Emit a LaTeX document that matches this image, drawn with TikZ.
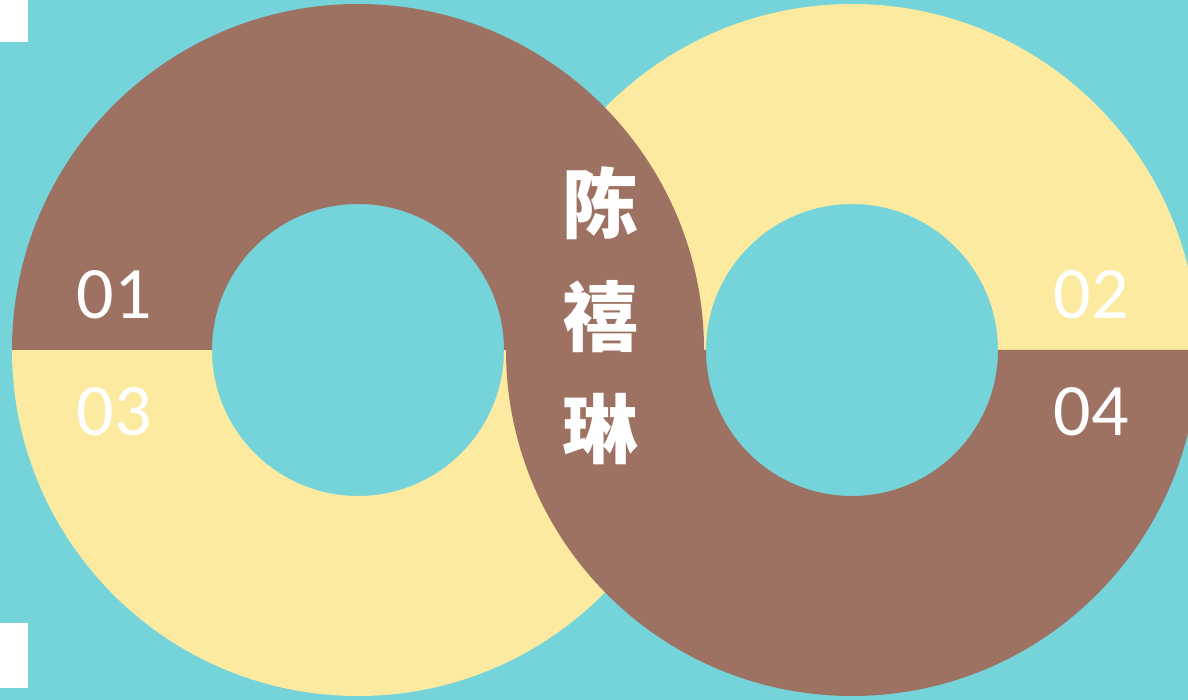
\documentclass[tikz,border=0pt]{standalone}
\usepackage{fontspec}
\setmainfont{Carlito}
\newfontfamily\cjk{Noto Sans CJK SC}
\definecolor{teal}{RGB}{116,212,218}
\definecolor{brownc}{RGB}{157,114,98}
\definecolor{yellowc}{RGB}{252,234,160}
\tikzset{
  num/.style={text=white,font=\fontsize{74}{74}\selectfont,inner sep=0pt,anchor=center},
  han/.style={text=white,font=\cjk\bfseries\fontsize{76}{76}\selectfont,inner sep=0pt,anchor=center}
}
\begin{document}
\begin{tikzpicture}[x=1pt,y=1pt]
\useasboundingbox (0,0) rectangle (1188,700);
\fill[teal] (0,0) rectangle (1188,700);
\coordinate (L) at (358,350);
\coordinate (R) at (852,350);
% right top yellow
\fill[yellowc] (R) ++(180:346) arc[start angle=180,end angle=0,radius=346] -- ++(-200,0) arc[start angle=0,end angle=180,radius=146] -- cycle;
% left bottom yellow
\fill[yellowc] (L) ++(180:346) arc[start angle=180,end angle=360,radius=346] -- ++(-200,0) arc[start angle=360,end angle=180,radius=146] -- cycle;
% left top brown
\fill[brownc] (L) ++(180:346) arc[start angle=180,end angle=0,radius=346] -- ++(-200,0) arc[start angle=0,end angle=180,radius=146] -- cycle;
% right bottom brown
\fill[brownc] (R) ++(180:346) arc[start angle=180,end angle=360,radius=346] -- ++(-200,0) arc[start angle=360,end angle=180,radius=146] -- cycle;
% white corners
\fill[white] (0,700) rectangle (28,658);
\fill[white] (0,77) rectangle (28,12);
% labels
\node[num] (n1) at (114,405) {01};
\node[num] (n3) at (114,288) {03};
\node[num] (n2) at (1091,405) {02};
\node[num] (n4) at (1091,288) {04};
\node[han] (c1) at (600,497) {陈};
\node[han] (c2) at (600,383) {禧};
\node[han] (c3) at (600,271) {琳};
\end{tikzpicture}
\end{document}
